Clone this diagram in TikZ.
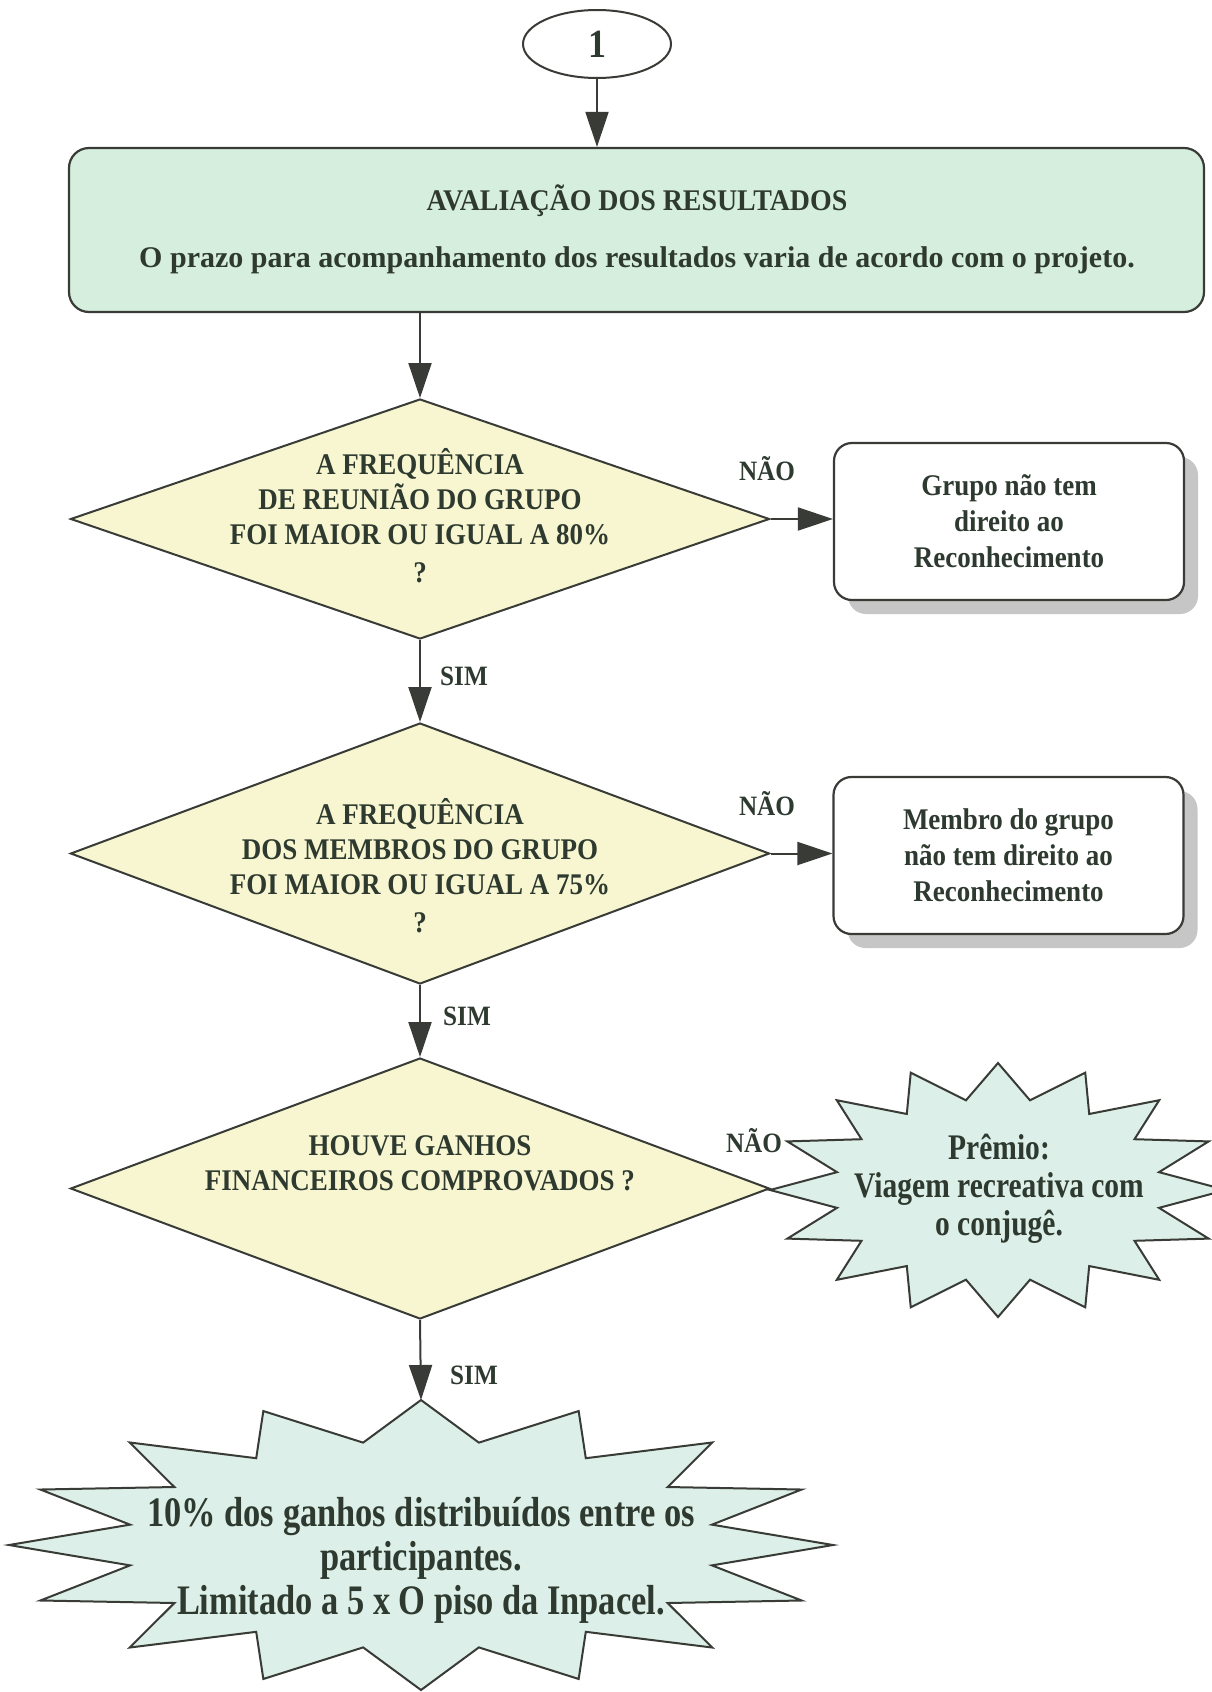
\documentclass[tikz,border=0pt]{standalone}
\usepackage{fontspec}
\setmainfont{Liberation Serif}[FakeStretch=0.9]
\newfontfamily\plainface{Liberation Serif}
\newfontfamily\titleface{Liberation Serif}[FakeStretch=0.93]
\newfontfamily\narrowface{Liberation Serif}[FakeStretch=0.82]
\usetikzlibrary{shapes.geometric,arrows.meta,shadows}

\definecolor{ink}{HTML}{2E3A2F}
\definecolor{edge}{HTML}{383B36}
\definecolor{mint}{HTML}{D6EEDE}
\definecolor{pale}{HTML}{F7F6D0}
\definecolor{aqua}{HTML}{DCEFE8}
\definecolor{shade}{HTML}{C6C6C6}

\tikzset{
  txt/.style={text=ink},
  flow/.style={draw=edge, line width=2pt, -{Triangle[length=35pt,width=23pt]}},
  decision/.style={diamond, draw=edge, line width=2pt, fill=pale, inner sep=0pt, minimum width=699pt},
  qtext/.style={txt, align=center, font=\bfseries\fontsize{30}{35}\selectfont},
  outcome/.style={draw=edge, line width=2.2pt, rounded corners=18pt, fill=white,
    minimum width=350pt, minimum height=157pt, align=center, txt,
    font=\bfseries\fontsize{30}{36}\selectfont,
    drop shadow={shadow xshift=14pt, shadow yshift=-14pt, fill=shade, opacity=1}},
  tag/.style={txt, font=\bfseries\fontsize{28}{32}\selectfont},
  burst/.style={draw=edge, line width=2pt, fill=aqua, line join=miter},
}

\begin{document}
\begin{tikzpicture}[x=1pt,y=-1pt]
\useasboundingbox (0,0) rectangle (1212,1692);

% entry connector
\node[ellipse, draw=edge, line width=2pt, fill=white, minimum width=148pt,
  minimum height=68pt, inner sep=0pt, txt, font=\bfseries\fontsize{40}{40}\selectfont]
  (start) at (597,44) {1};

% evaluation box
\node[draw=edge, line width=2.2pt, rounded corners=20pt, fill=mint,
  minimum width=1135pt, minimum height=164pt] (eval) at (636.5,230) {};
\node[txt, anchor=base, font={\titleface\bfseries\fontsize{30}{36}\selectfont}]
  (evaltitle) at (637,210) {AVALIAÇÃO DOS RESULTADOS};
\node[txt, anchor=base, font={\plainface\bfseries\fontsize{30}{36}\selectfont}]
  (evalbody) at (637,267) {O prazo para acompanhamento dos resultados varia de acordo com o projeto.};

% decisions
\node[decision, minimum height=240pt] (q1) at (420,519) {};
\node[qtext] (q1text) at (420,516)
  {A FREQUÊNCIA\\DE REUNIÃO DO GRUPO\\FOI MAIOR OU IGUAL A 80\%\\[3pt]?};

\node[decision, minimum height=261pt] (q2) at (420,853.5) {};
\node[qtext] (q2text) at (420,866)
  {A FREQUÊNCIA\\DOS MEMBROS DO GRUPO\\FOI MAIOR OU IGUAL A 75\%\\[3pt]?};

\node[decision, minimum height=261pt] (q3) at (420,1188.5) {};
\node[qtext] (q3text) at (420,1163)
  {HOUVE GANHOS\\FINANCEIROS COMPROVADOS ?};

% negative outcomes
\node[outcome] (r1) at (1009,521.5) {Grupo não tem\\direito ao\\Reconhecimento};
\node[outcome] (r2) at (1008.5,855.5) {Membro do grupo\\não tem direito ao\\Reconhecimento};

% prize burst
\draw[burst] plot[samples at={0,...,31}, variable=\k]
  ({998+228*(1-0.28*mod(\k,2))*cos(90+11.25*\k)},
   {1190-127*(1-0.28*mod(\k,2))*sin(90+11.25*\k)}) -- cycle;
\coordinate (s1tip) at (770,1190);
\node[txt, align=center, font={\narrowface\bfseries\fontsize{36}{38}\selectfont}]
  (prize) at (999,1189) {Prêmio:\\Viagem recreativa com\\o conjugê.};

% share burst
\draw[burst] plot[samples at={0,...,31}, variable=\k]
  ({421+412*(1-0.28*mod(\k,2))*cos(90+11.25*\k)},
   {1545-145*(1-0.28*mod(\k,2))*sin(90+11.25*\k)}) -- cycle;
\coordinate (s2top) at (421,1400);
\node[txt, align=center, font={\narrowface\bfseries\fontsize{42}{44}\selectfont}]
  (share) at (421,1560) {10\% dos ganhos distribuídos entre os\\participantes.\\Limitado a 5 x O piso da Inpacel.};

% connectors
\draw[flow] (start.south) -- (start.south |- eval.north);
\draw[flow] (q1.north |- eval.south) -- (q1.north);
\draw[flow] (q1.east) -- (q1.east -| r1.west);
\draw[flow] (q1.south) -- (q2.north);
\draw[flow] (q2.east) -- (q2.east -| r2.west);
\draw[flow] (q2.south) -- (q3.north);
\draw[flow] (q3.south) -- (s2top);

% branch labels
\node[tag] (no1) at (767,469) {NÃO};
\node[tag] (yes1) at (464,676) {SIM};
\node[tag] (no2) at (767,804) {NÃO};
\node[tag] (yes2) at (467,1016) {SIM};
\node[tag] (no3) at (754,1141) {NÃO};
\node[tag] (yes3) at (474,1375) {SIM};
\end{tikzpicture}
\end{document}
